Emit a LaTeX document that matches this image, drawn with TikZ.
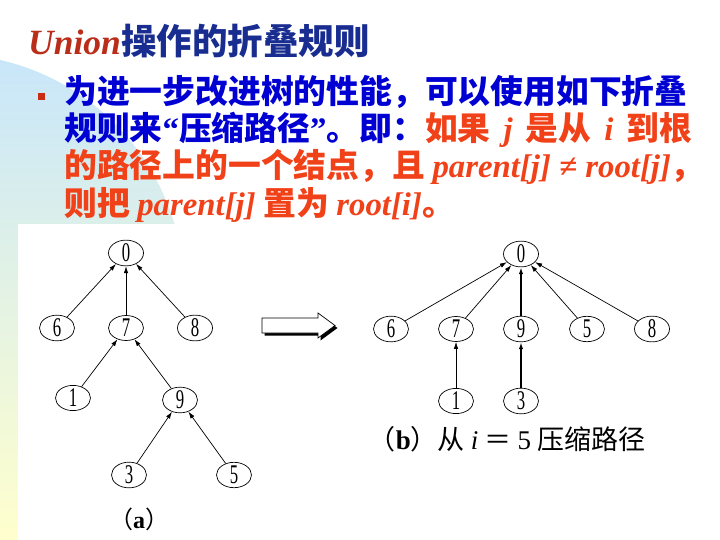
\documentclass[tikz,border=0pt]{standalone}
\usepackage{fontspec}
\newfontfamily\cjk{Noto Sans CJK SC}
\newfontfamily\tnr{Liberation Serif}
\newfontfamily\digitfont{Liberation Serif}[FakeStretch=0.62]
\usepackage{xcolor}
\definecolor{TitleRed}{RGB}{185,45,25}
\definecolor{TitleBlue}{RGB}{25,45,145}
\definecolor{TextBlue}{RGB}{0,0,210}
\definecolor{TextRed}{RGB}{240,65,25}
\definecolor{BulletRed}{RGB}{200,45,20}
\definecolor{BackBlue}{RGB}{200,230,250}
\definecolor{BackYellow}{RGB}{255,255,205}
\usepackage{tikz}
\usetikzlibrary{positioning, arrows.meta, shapes.geometric}

\begin{document}
\begin{tikzpicture}[x=1pt, y=-1pt,
	elem/.style={draw, ellipse, line width=0.7pt, minimum width=35pt, minimum height=24pt, inner sep=0pt, font=\digitfont\fontsize{27}{27}\selectfont},
	link/.style={line width=0.7pt, -{Latex[length=7pt,width=4.5pt]}},
	hlink/.style={link, line width=1.8pt},
	txtline/.style={anchor=base west, inner sep=0pt, font=\cjk\bfseries\fontsize{32.8}{36}\selectfont}]
			\useasboundingbox (0,0) rectangle (720,540);
			% Fondo
			\begin{scope}
				\clip (-53,291) circle (237pt);
				\shade[top color=BackBlue, bottom color=BackYellow] (0,54) rectangle (720,540);
			\end{scope}
			\begin{scope}
				\clip (0,280) rectangle (17.5,540);
				\shade[top color=BackBlue, bottom color=BackYellow] (0,54) rectangle (720,540);
			\end{scope}
			\fill[white] (17.5,224) rectangle (720,540);
			% Titulo
			\node[anchor=base west, inner sep=0pt, text=TitleRed, font=\tnr\bfseries\itshape\fontsize{35.5}{35.5}\selectfont] (union) at (28,55) {Union};
			\node[anchor=base west, inner sep=0pt, text=TitleBlue, font=\cjk\bfseries\fontsize{35.5}{35.5}\selectfont] (title) at (union.base east) {操作的折叠规则};
			% Texto
			\node[fill=BulletRed, minimum size=7.5pt, inner sep=0pt] (bullet) at (41.5,96.5) {};
			\node[txtline, text=TextBlue] (l1) at (64,104) {为进一步改进树的性能，可以使用如下折叠};
			\node[txtline, text=TextBlue] (l2) at (64,141) {规则来{\tnr “}压缩路径{\tnr ”}。即：\textcolor{TextRed}{如果\hspace{13pt}{\tnr\itshape j}\hspace{13pt}是从\hspace{13pt}{\tnr\itshape i}\hspace{13pt}到根}};
			\node[txtline, text=TextRed] (l3) at (64,178) {的路径上的一个结点，且 {\tnr\bfseries\itshape parent[j] ≠ root[j]}，};
			\node[txtline, text=TextRed] (l4) at (64,215) {则把 {\tnr\bfseries\itshape parent[j]} 置为 {\tnr\bfseries\itshape root[i]}。};
			% Arbol (a)
			\node[elem] (a0) at (126,253) {0};
			\node[elem] (a6) at (57,328) {6};
			\node[elem] (a7) at (126,328) {7};
			\node[elem] (a8) at (195,328) {8};
			\node[elem] (a1) at (73,398) {1};
			\node[elem] (a9) at (180,400) {9};
			\node[elem] (a3) at (129,475) {3};
			\node[elem] (a5) at (234,475) {5};
			\draw[link] (a6) -- (a0);
			\draw[link] (a7) -- (a0);
			\draw[link] (a8) -- (a0);
			\draw[link] (a1) -- (a7);
			\draw[link] (a9) -- (a7);
			\draw[link] (a3) -- (a9);
			\draw[link] (a5) -- (a9);
			\node[font=\fontsize{24}{24}\selectfont] (capa) at (139,519) {{\cjk （}{\tnr\bfseries a}{\cjk ）}};
			% Flecha
			\fill[black] (264.5,320.5) -- (320.5,320.5) -- (320.5,315.5) -- (337.5,328) -- (320.5,340.5) -- (320.5,335.5) -- (264.5,335.5) -- cycle;
			\draw[fill=white, line width=0.7pt] (262,318) -- (318,318) -- (318,313) -- (335,325.5) -- (318,338) -- (318,333) -- (262,333) -- cycle;
			% Arbol (b)
			\node[elem] (b0) at (521,254) {0};
			\node[elem] (b6) at (391,329) {6};
			\node[elem] (b7) at (456,329) {7};
			\node[elem] (b9) at (521,329) {9};
			\node[elem] (b5) at (587,329) {5};
			\node[elem] (b8) at (652,329) {8};
			\node[elem] (b1) at (456,401) {1};
			\node[elem] (b3) at (521,401) {3};
			\draw[link] (b6) -- (b0);
			\draw[link] (b7) -- (b0);
			\draw[hlink] (b9) -- (b0);
			\draw[link] (b5) -- (b0);
			\draw[link] (b8) -- (b0);
			\draw[link] (b1) -- (b7);
			\draw[hlink] (b3) -- (b9);
			\node[font=\cjk\fontsize{27}{27}\selectfont] (capb) at (507,439) {（{\tnr\bfseries b}）从 {\tnr\itshape i} ＝ {\tnr 5} 压缩路径};
\end{tikzpicture}
\end{document}
